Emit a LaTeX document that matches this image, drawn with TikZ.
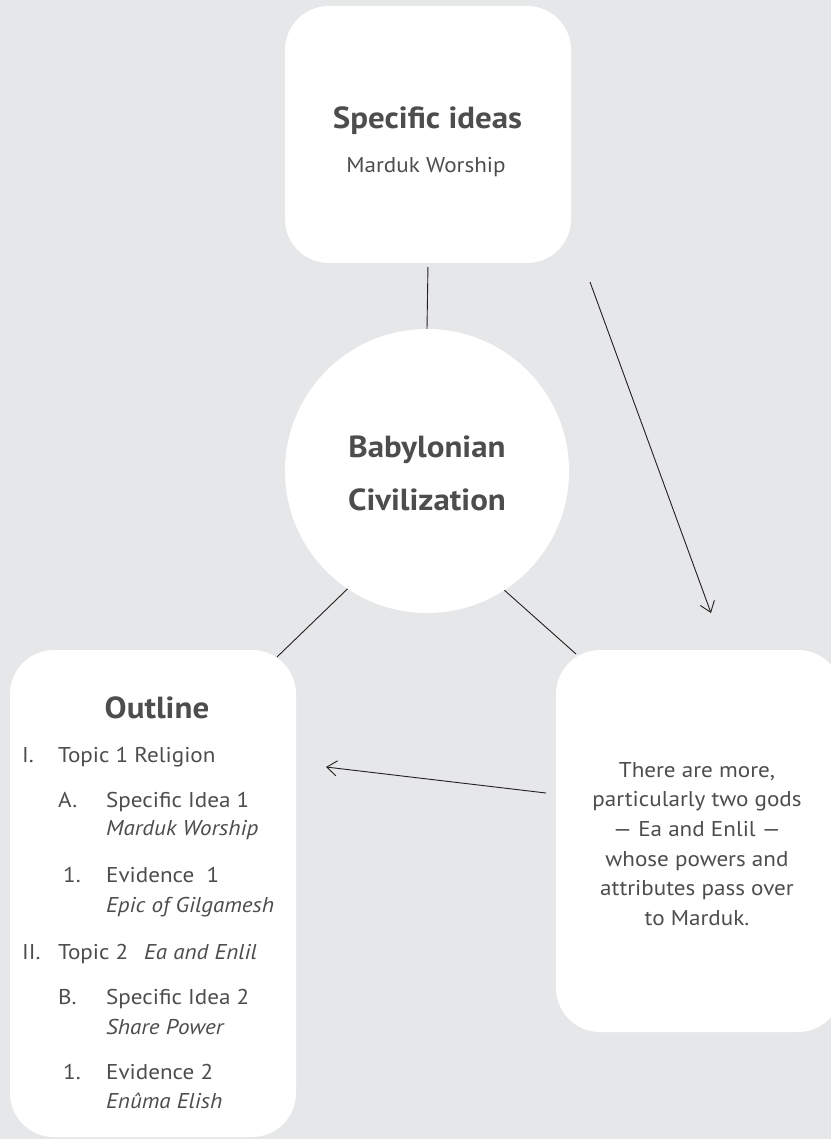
\documentclass[tikz,border=0pt]{standalone}
\usepackage{fontspec}
\setmainfont{PT Sans}[FakeStretch=1.08]
\usetikzlibrary{arrows.meta}
\definecolor{bg}{HTML}{E6E7E8}
\definecolor{txt}{HTML}{4D4D4F}
\definecolor{ln}{HTML}{231F20}
\begin{document}
\begin{tikzpicture}[x=1pt,y=-1pt,
  card/.style={fill=white, rounded corners=44pt, minimum width=286pt, inner sep=0pt},
  title/.style={text=txt, font=\fontsize{30.5}{34}\selectfont\bfseries, inner sep=0pt, anchor=base},
  body/.style={text=txt, font=\fontsize{21.4}{29.6}\selectfont, inner sep=0pt},
  item/.style={body, anchor=base west},
  conn/.style={draw=ln, line width=0.9pt},
  arr/.style={conn, -{Straight Barb[length=10pt,width=15pt,line width=0.9pt]}}]
\fill[bg] (0,0) rectangle (831,1139);
\useasboundingbox (0,0) rectangle (831,1139);

% shapes
\node[card, minimum height=257pt] (top) at (428,134.5) {};
\node[circle, fill=white, minimum size=284pt, inner sep=0pt] (circ) at (427,471) {};
\node[card, minimum height=487pt] (outl) at (153,893.5) {};
\node[card, minimum height=382pt] (info) at (699,841) {};

% top box texts
\node[title] (t1) at (427.5,129) {Specific ideas};
\node[body, anchor=base] (t2) at (426,173) {Marduk Worship};

% circle texts
\node[title] (c1) at (427,457) {Babylonian};
\node[title] (c2) at (427,510) {Civilization};

% outline
\node[title] (o0) at (157,718) {Outline};
\node[item] (o1a) at (22,762) {I.};
\node[item] (o1b) at (58,762) {Topic 1 Religion};
\node[item] (o2a) at (58,807) {A.};
\node[item] (o2b) at (106,807) {Specific Idea 1};
\node[item] (o2c) at (106,835) {\itshape Marduk Worship};
\node[item] (o3a) at (63,882) {1.};
\node[item] (o3b) at (106,882) {Evidence\ \ 1};
\node[item] (o3c) at (106,912) {\itshape Epic of Gilgamesh};
\node[item] (o4a) at (22,959) {II.};
\node[item] (o4b) at (58,959) {Topic 2};
\node[item] (o4c) at (144,959) {\itshape Ea and Enlil};
\node[item] (o5a) at (58,1004) {B.};
\node[item] (o5b) at (106,1004) {Specific Idea 2};
\node[item] (o5c) at (106,1034) {\itshape Share Power};
\node[item] (o6a) at (63,1079) {1.};
\node[item] (o6b) at (106,1079) {Evidence 2};
\node[item] (o6c) at (106,1108) {\itshape En\^uma Elish};

% right box text
\node[body, align=center] (it) at (697,844) {There are more,\\particularly two gods\\— Ea and Enlil —\\whose powers and\\attributes pass over\\to Marduk.};

% connectors
\coordinate (lend) at (277,657);
\coordinate (rend) at (576,654);
\coordinate (a1s) at (590,282);
\coordinate (a1e) at (711,613);
\coordinate (a2s) at (546,793);
\coordinate (a2e) at (326,767);
\draw[conn, shorten <=4pt] (top.south) -- (circ.north);
\draw[conn] (circ.236.5) -- (lend);
\draw[conn] (circ.303.8) -- (rend);
\draw[arr] (a1s) -- (a1e);
\draw[arr] (a2s) -- (a2e);
\end{tikzpicture}
\end{document}
